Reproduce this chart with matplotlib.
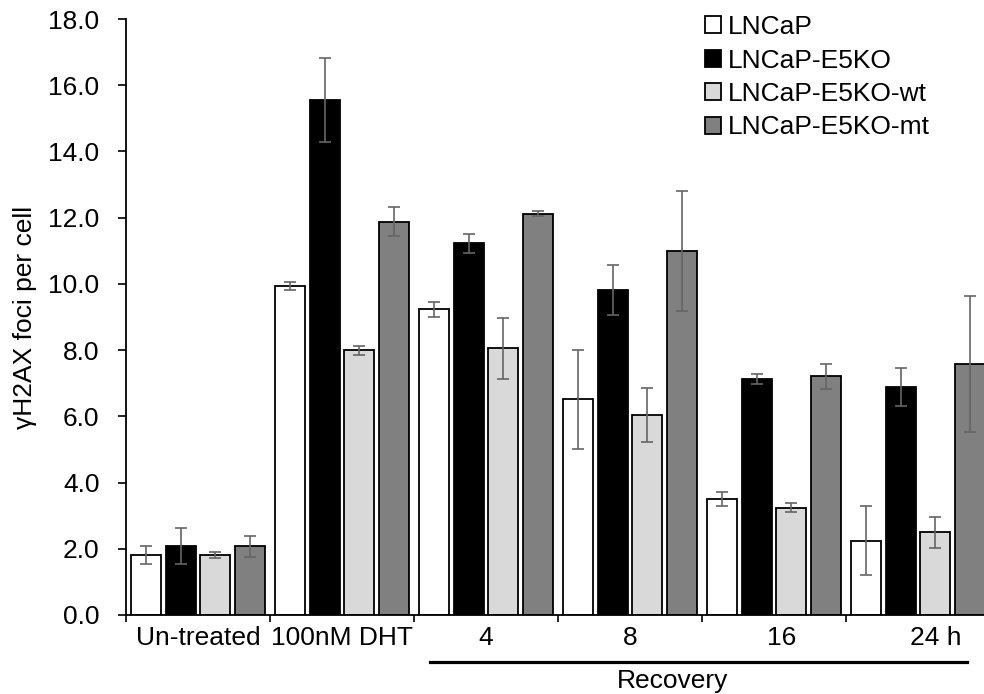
import numpy as np
import matplotlib
matplotlib.use("Agg")
import matplotlib.pyplot as plt
from matplotlib.lines import Line2D
from matplotlib.transforms import ScaledTranslation

plt.rcParams["font.family"] = ["Liberation Sans", "DejaVu Sans"]

# data
groups = ["Un-treated", "100nM DHT", "4", "8", "16", "24 h"]
series = ["LNCaP", "LNCaP-E5KO", "LNCaP-E5KO-wt", "LNCaP-E5KO-mt"]
lncap = [1.81, 9.95, 9.23, 6.51, 3.50, 2.25]
lncap_err = [0.26, 0.12, 0.22, 1.50, 0.20, 1.05]
e5ko = [2.08, 15.56, 11.22, 9.82, 7.13, 6.89]
e5ko_err = [0.54, 1.26, 0.30, 0.76, 0.15, 0.58]
e5ko_wt = [1.81, 7.99, 8.05, 6.05, 3.24, 2.50]
e5ko_wt_err = [0.10, 0.14, 0.93, 0.82, 0.14, 0.47]
e5ko_mt = [2.07, 11.88, 12.12, 11.00, 7.21, 7.58]
e5ko_mt_err = [0.32, 0.43, 0.08, 1.81, 0.38, 2.06]

values = [lncap, e5ko, e5ko_wt, e5ko_mt]
errors = [lncap_err, e5ko_err, e5ko_wt_err, e5ko_mt_err]
colors = ["#FFFFFF", "#000000", "#D9D9D9", "#808080"]

W, H = 984, 694
fig = plt.figure(figsize=(W / 100, H / 100), dpi=100)
ax = fig.add_axes([126 / W, 1 - 615 / H, 864 / W, 596 / H])

x = np.arange(len(groups))
offsets = [-0.36, -0.12, 0.12, 0.36]
bars = []
for vals, errs, c, off, name in zip(values, errors, colors, offsets, series):
    b = ax.bar(x + off, vals, width=0.208, color=c, edgecolor="black",
               linewidth=1.3, label=name, zorder=2)
    ax.errorbar(x + off, vals, yerr=errs, fmt="none", ecolor="#656565",
                elinewidth=1.2, capsize=4.3, capthick=1.2, zorder=3)
    bars.append(b)

ax.set_xlim(-0.5, len(groups) - 0.5)
ax.set_ylim(0, 18)
ax.set_yticks(np.arange(0, 18.1, 2))
ax.set_yticklabels([f"{v:.1f}" for v in np.arange(0, 18.1, 2)])
ax.set_ylabel("γH2AX foci per cell", fontsize=19, labelpad=8)

ax.set_xticks(x)
ax.set_xticklabels(groups)
ax.set_xticks(np.arange(0, len(groups)) - 0.5, minor=True)
ax.tick_params(axis="x", which="major", length=0, pad=8, labelsize=19)
ax.tick_params(axis="x", which="minor", length=5, width=1.2, direction="out")
ax.tick_params(axis="y", length=6, width=1.2, pad=13, labelsize=19)

for s in ["top", "right"]:
    ax.spines[s].set_visible(False)
for s in ["left", "bottom"]:
    ax.spines[s].set_linewidth(1.3)

# small shifts of the last two category labels as in the original
nudges = [0, 0, 0, 0, 8, 18]
for lab, dx in zip(ax.get_xticklabels(), nudges):
    lab.set_transform(lab.get_transform() + ScaledTranslation(dx / 100, 0, fig.dpi_scale_trans))

leg = ax.legend(handles=bars, loc="upper left",
                bbox_to_anchor=(705 / W, 1 - 15 / H), bbox_transform=fig.transFigure,
                frameon=False, fontsize=19, handlelength=0.6, handleheight=0.6,
                handletextpad=0.25, labelspacing=0.36, borderpad=0, borderaxespad=0)

# "Recovery" bracket under the time points
fig.add_artist(Line2D([430 / W, 967 / W], [1 - 662 / H, 1 - 662 / H],
                      color="black", linewidth=2.3, transform=fig.transFigure))
fig.text(673 / W, 1 - 669 / H, "Recovery", ha="center", va="top", fontsize=19)

fig.savefig("out.png", dpi=100)
